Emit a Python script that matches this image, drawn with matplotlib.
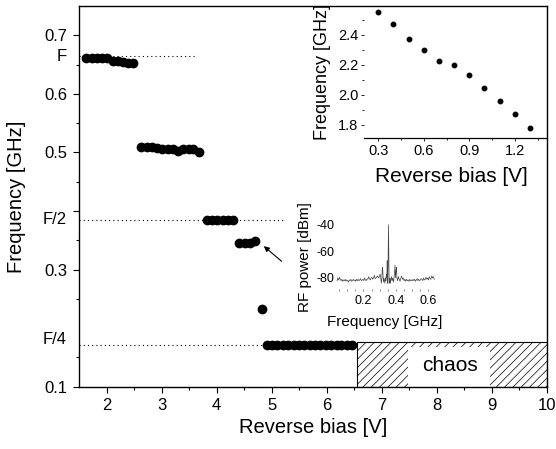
import matplotlib
matplotlib.use("Agg")
import matplotlib.pyplot as plt
import matplotlib.transforms as mtransforms
from matplotlib.patches import Rectangle

plt.rcParams["font.family"] = ["Liberation Sans", "DejaVu Sans"]
plt.rcParams["hatch.linewidth"] = 0.5
plt.rcParams["axes.unicode_minus"] = False

# main plot: oscillation frequency vs reverse bias
bias = [1.63, 1.73, 1.82, 1.92, 2.01, 2.11, 2.20, 2.30, 2.39, 2.49,
        2.63, 2.73, 2.82, 2.92, 3.01, 3.11, 3.20, 3.30, 3.39, 3.49, 3.58, 3.68,
        3.82, 3.92, 4.01, 4.11, 4.20, 4.30,
        4.41, 4.51, 4.60, 4.70,
        4.82,
        4.91, 5.01, 5.10, 5.20, 5.30, 5.40, 5.49, 5.59, 5.69, 5.79, 5.88,
        5.98, 6.08, 6.18, 6.27, 6.37, 6.47]
freq = [0.661, 0.661, 0.661, 0.661, 0.661, 0.656, 0.656, 0.655, 0.653, 0.652,
        0.510, 0.510, 0.509, 0.507, 0.506, 0.506, 0.506, 0.503, 0.506, 0.506, 0.506, 0.500,
        0.384, 0.384, 0.384, 0.384, 0.384, 0.384,
        0.345, 0.345, 0.346, 0.349,
        0.233,
        0.172, 0.172, 0.172, 0.172, 0.172, 0.172, 0.172, 0.172, 0.172, 0.172, 0.172,
        0.172, 0.172, 0.172, 0.172, 0.172, 0.172]

# reference levels F, F/2, F/4
level_names = ["F", "F/2", "F/4"]
level_vals = [0.664, 0.384, 0.172]
level_ends = [3.64, 5.25, 7.0]
level_label_y = [0.664, 0.386, 0.181]

chaos_start = 6.55
chaos_top = 0.177

# inset: low bias range
inset_bias = [0.3, 0.4, 0.5, 0.6, 0.7, 0.8, 0.9, 1.0, 1.1, 1.2, 1.3]
inset_freq = [2.55, 2.47, 2.37, 2.30, 2.227, 2.20, 2.13, 2.044, 1.96, 1.874, 1.78]

# inset: RF spectrum
spec_f = [0.037, 0.042, 0.047, 0.052, 0.057, 0.062, 0.067, 0.072, 0.077, 0.082,
          0.087, 0.092, 0.097, 0.102, 0.107, 0.112, 0.117, 0.122, 0.127, 0.132,
          0.137, 0.142, 0.147, 0.152, 0.157, 0.162, 0.167, 0.172, 0.177, 0.182,
          0.187, 0.192, 0.197, 0.202, 0.207, 0.212, 0.217, 0.222, 0.227, 0.232,
          0.237, 0.242, 0.247, 0.252, 0.257, 0.262, 0.267, 0.272, 0.277, 0.282,
          0.287, 0.292, 0.297, 0.302, 0.306, 0.310, 0.313, 0.316, 0.318, 0.320,
          0.323, 0.326, 0.329, 0.332, 0.335, 0.338, 0.341, 0.344, 0.346, 0.348,
          0.350, 0.352, 0.354, 0.356, 0.358, 0.360, 0.363, 0.366, 0.369, 0.372,
          0.376, 0.380, 0.384, 0.388, 0.391, 0.394, 0.397, 0.400, 0.403, 0.406,
          0.410, 0.415, 0.420, 0.425, 0.430, 0.435, 0.440, 0.445, 0.450, 0.455,
          0.460, 0.465, 0.470, 0.475, 0.480, 0.485, 0.490, 0.495, 0.500, 0.505,
          0.510, 0.515, 0.520, 0.525, 0.530, 0.535, 0.540, 0.545, 0.550, 0.555,
          0.560, 0.565, 0.570, 0.575, 0.580, 0.585, 0.590, 0.595, 0.600, 0.605,
          0.610, 0.615, 0.620, 0.625, 0.630, 0.636]
spec_p = [-82, -80, -81.5, -79.5, -81, -82, -81, -82.5, -81.5, -82,
          -81, -82.5, -81.5, -82, -83, -81.5, -82, -81, -82.5, -82,
          -81, -82, -81.5, -82.5, -81, -82, -81, -82, -81.5, -80.5,
          -82, -81.5, -81, -82, -80, -81.5, -82, -80.5, -81, -79,
          -80.5, -81.5, -80, -79.5, -81, -80, -78, -80.5, -80, -79,
          -78.5, -80, -79, -77, -80, -84, -80, -73, -72, -78,
          -83, -80, -82, -84, -80, -82, -77, -80, -67, -84,
          -82, -60, -40, -62, -84, -82, -80, -84, -81, -79,
          -82, -80, -83, -80, -76, -70.5, -80, -75, -72, -80,
          -82, -79, -81, -82.5, -80, -78.5, -81, -80, -82, -81,
          -82.5, -81, -82, -81.5, -82.5, -81, -82, -81.5, -82, -81,
          -82, -81, -82.5, -81.5, -80.5, -82, -81, -82, -81.5, -80.5,
          -81, -82, -80, -81.5, -81, -79.5, -81, -80, -81.5, -79,
          -80.5, -81, -78.5, -80, -79, -81]

fig = plt.figure(figsize=(5.56, 4.49), dpi=100)

ax = fig.add_axes([0.1421, 0.1388, 0.8412, 0.8479])
ax.plot(bias, freq, "o", color="black", ms=6, zorder=3)
for v, e in zip(level_vals, level_ends):
    ax.plot([1.5, e], [v, v], color="black", lw=0.8, ls=(0, (1, 2.8)), zorder=1)

ax.add_patch(Rectangle((chaos_start, 0.1), 10 - chaos_start, chaos_top - 0.1,
                       facecolor="white", edgecolor="black", hatch="////", lw=0.8, zorder=2))
ax.add_patch(Rectangle((7.48, 0.1), 1.49, 0.068, facecolor="white", edgecolor="none", zorder=2.5))
ax.text(8.25, 0.137, "chaos", fontsize=15, ha="center", va="center", zorder=4)

ax.annotate("", xy=(4.82, 0.343), xytext=(5.22, 0.311),
            arrowprops=dict(arrowstyle="-|>", lw=0.8, color="black", mutation_scale=8))

ax.set_xlim(1.5, 10)
ax.set_ylim(0.1, 0.75)
ax.set_xticks(range(2, 11))
ax.set_xticks([2.5 + i for i in range(8)], minor=True)
ax.set_yticks([0.1, 0.3, 0.4, 0.5, 0.6, 0.7])
ax.set_yticklabels(["0.1", "0.3", "", "0.5", "0.6", "0.7"])
ax.set_yticks([0.15, 0.25, 0.35, 0.45, 0.55, 0.65], minor=True)
ax.tick_params(which="major", direction="out", length=4.5, width=0.8, labelsize=12, pad=4)
ax.tick_params(which="minor", direction="out", length=2.5, width=0.8)
for s in ax.spines.values():
    s.set_linewidth(1.0)

trans = mtransforms.blended_transform_factory(ax.transAxes, ax.transData)
for name, yl in zip(level_names, level_label_y):
    ax.text(-0.026, yl, name, transform=trans, ha="right", va="center", fontsize=12)

ax.set_xlabel("Reverse bias [V]", fontsize=14.5)
ax.set_ylabel("Frequency [GHz]", fontsize=14.5)
ax.xaxis.set_label_coords(0.5, -0.082)
ax.yaxis.set_label_coords(-0.113, 0.5)

# inset 1
ax1 = fig.add_axes([0.6552, 0.6920, 0.3281, 0.2947])
ax1.patch.set_visible(False)
ax1.plot(inset_bias, inset_freq, "o", color="black", ms=3.2)
ax1.set_xlim(0.208, 1.41)
ax1.set_ylim(1.71, 2.59)
ax1.set_xticks([0.3, 0.6, 0.9, 1.2])
ax1.set_xticks([0.45, 0.75, 1.05, 1.35], minor=True)
ax1.set_yticks([1.8, 2.0, 2.2, 2.4])
ax1.set_yticks([1.9, 2.1, 2.3, 2.5], minor=True)
for k in ["left", "top", "right"]:
    ax1.spines[k].set_visible(False)
ax1.spines["bottom"].set_linewidth(0.9)
ax1.tick_params(which="major", direction="out", length=2.2, width=0.6, labelsize=10.5, pad=2)
ax1.tick_params(which="minor", direction="out", length=1.2, width=0.6)
ax1.set_xlabel("Reverse bias [V]", fontsize=15)
ax1.set_ylabel("Frequency [GHz]", fontsize=13)
ax1.xaxis.set_label_coords(0.479, -0.215)
ax1.yaxis.set_label_coords(-0.183, 0.5)

# inset 2: RF spectrum
ax2 = fig.add_axes([0.6041, 0.3512, 0.1811, 0.1543])
ax2.patch.set_visible(False)
ax2.plot(spec_f, spec_p, color="#444444", lw=0.5)
ax2.set_xlim(0.03, 0.65)
ax2.set_ylim(-90, -38)
ax2.set_xticks([0.2, 0.4, 0.6])
ax2.set_xticks([0.05, 0.1, 0.15, 0.25, 0.3, 0.35, 0.45, 0.5, 0.55], minor=True)
ax2.set_yticks([-80, -60, -40])
for s in ax2.spines.values():
    s.set_visible(False)
ax2.tick_params(axis="x", which="both", direction="in", length=1.2, width=0.6,
                color="#777777", labelsize=9, pad=3)
ax2.tick_params(axis="y", which="both", length=0, labelsize=9, pad=1)
ax2.set_xlabel("Frequency [GHz]", fontsize=11)
ax2.set_ylabel("RF power [dBm]", fontsize=11)
ax2.xaxis.set_label_coords(0.48, -0.342)
ax2.yaxis.set_label_coords(-0.24, 0.5)

fig.savefig("out.png", dpi=100)
